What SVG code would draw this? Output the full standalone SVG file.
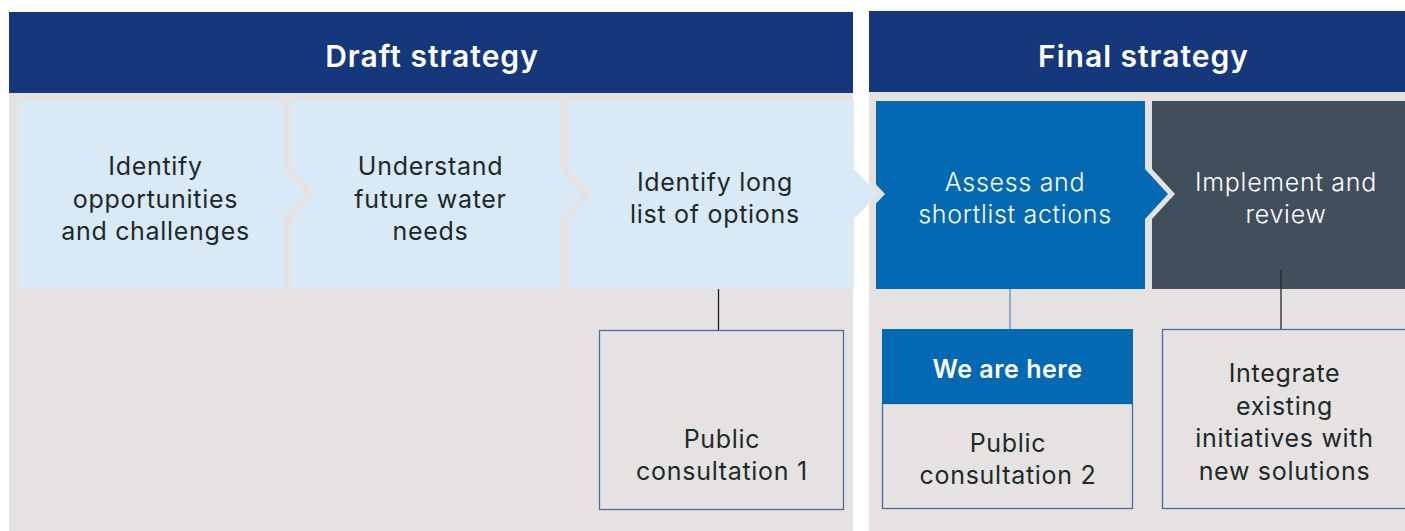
<svg xmlns="http://www.w3.org/2000/svg" width="1405" height="531" viewBox="0 0 1405 531">
  <style>
    .hdr { fill: #15387c; }
    .bg { fill: #e6e2e2; }
    .htxt { font-family: Inter, "Liberation Sans", sans-serif; font-size: 30px; font-weight: 600; fill: #ffffff; text-anchor: middle; letter-spacing: 1px; }
    .dtxt { font-family: Inter, "Liberation Sans", sans-serif; font-size: 25px; font-weight: 400; fill: #1d2a2a; text-anchor: middle; letter-spacing: 0.7px; }
    .wtxt { font-family: Inter, "Liberation Sans", sans-serif; font-size: 25px; font-weight: 300; fill: #ffffff; text-anchor: middle; letter-spacing: 0.7px; }
    .btxt { font-family: Inter, "Liberation Sans", sans-serif; font-size: 25px; font-weight: 600; fill: #ffffff; text-anchor: middle; letter-spacing: 0.5px; }
    .light { fill: #d9e9f6; }
    .outline { fill: none; stroke: #4d6aa3; stroke-width: 1.3; }
    .conn { fill: none; stroke-width: 1.3; }
  </style>
  <rect width="1405" height="531" fill="#ffffff"/>

  <g id="panel-draft">
    <rect class="bg" x="9" y="93" width="844" height="438"/>
    <rect class="hdr" x="9" y="12" width="844" height="81"/>
    <text class="htxt" x="432" y="67">Draft strategy</text>
  </g>
  <g id="panel-final">
    <rect class="bg" x="869" y="92" width="536" height="439"/>
    <rect class="hdr" x="869" y="11" width="536" height="81"/>
    <text class="htxt" x="1143.5" y="67">Final strategy</text>
  </g>

  <g id="connectors">
    <line class="conn" x1="718.5" y1="289" x2="718.5" y2="330" stroke="#1a1a1a"/>
    <line class="conn" x1="1010" y1="289" x2="1010" y2="329" stroke="#5b8fc0"/>
  </g>

  <g id="step1">
    <path class="light" d="M19,101 H284 V169 L307,194 L284,219 V289 H19 Z"/>
    <text class="dtxt" x="155.5" y="175">Identify</text>
    <text class="dtxt" x="155.5" y="207.5">opportunities</text>
    <text class="dtxt" x="155.5" y="240">and challenges</text>
  </g>
  <g id="step2">
    <path class="light" d="M291,101 H560 V169 L583,194 L560,219 V289 H291 V219 L314,194 L291,169 Z"/>
    <text class="dtxt" x="430.5" y="175">Understand</text>
    <text class="dtxt" x="430.5" y="207.5">future water</text>
    <text class="dtxt" x="430.5" y="240">needs</text>
  </g>
  <g id="step4">
    <path fill="#0369b2" d="M876,101 H1145 V169 L1168,194 L1145,219 V289 H876 V203.4 L885,194 L876,184.6 Z"/>
    <text class="wtxt" x="1015" y="191">Assess and</text>
    <text class="wtxt" x="1015" y="223">shortlist actions</text>
  </g>
  <g id="step3">
    <path class="light" d="M568,101 H854 V169 L878,194 L854,219 V289 H568 V219 L592,194 L568,169 Z"/>
    <text class="dtxt" x="715" y="191">Identify long</text>
    <text class="dtxt" x="715" y="223">list of options</text>
  </g>
  <g id="step5">
    <path fill="#414f5d" d="M1152,101 H1405 V289 H1152 V219 L1175,194 L1152,169 Z"/>
    <text class="wtxt" x="1286" y="191">Implement and</text>
    <text class="wtxt" x="1286" y="223">review</text>
  </g>

  <g id="connectors-2">
    <line class="conn" x1="1281" y1="270" x2="1281" y2="329" stroke="#1f2d2d"/>
  </g>

  <g id="consultation1">
    <rect class="outline" x="599.5" y="330.5" width="244" height="179"/>
    <text class="dtxt" x="722" y="448">Public</text>
    <text class="dtxt" x="722" y="480">consultation 1</text>
  </g>
  <g id="consultation2">
    <rect class="outline" x="882.5" y="403.5" width="250" height="105"/>
    <rect fill="#0369b2" x="882" y="329" width="251" height="75"/>
    <text class="btxt" x="1007.5" y="378">We are here</text>
    <text class="dtxt" x="1008" y="452">Public</text>
    <text class="dtxt" x="1008" y="484">consultation 2</text>
  </g>
  <g id="integrate">
    <rect class="outline" x="1162.5" y="329.5" width="250" height="179"/>
    <text class="dtxt" x="1284.5" y="382">Integrate</text>
    <text class="dtxt" x="1284.5" y="414.5">existing</text>
    <text class="dtxt" x="1284.5" y="447">initiatives with</text>
    <text class="dtxt" x="1284.5" y="479.5">new solutions</text>
  </g>
</svg>
